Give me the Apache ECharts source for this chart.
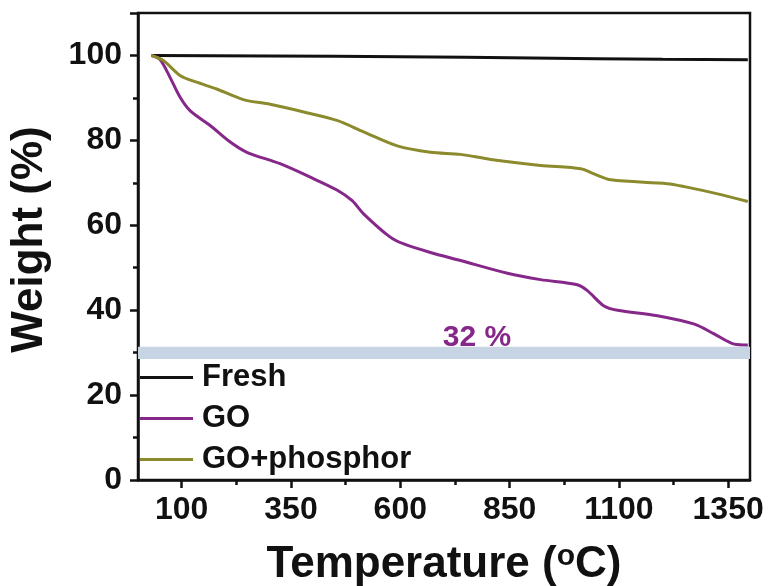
<!DOCTYPE html>
<html>
<head>
<meta charset="utf-8">
<script src="https://cdn.jsdelivr.net/npm/echarts@6/dist/echarts.min.js"></script>
<style>html,body{margin:0;padding:0;background:#fff}#c{width:773px;height:586px}</style>
</head>
<body>
<div id="c"></div>
<script>
// ---- data ----
const seriesNames = ['Fresh', 'GO', 'GO+phosphor'];
const freshTemp = [31, 300, 600, 900, 1200, 1395];
const freshWeight = [100, 99.9, 99.7, 99.4, 99.1, 99.0];
const goTemp = [31, 50, 73, 96, 119, 165, 211, 249, 325, 401, 455, 490, 516, 577, 608, 669, 738, 845, 921, 1005, 1028, 1066, 1097, 1188, 1273, 1318, 1364, 1395];
const goWeight = [100, 99.1, 94.9, 90.2, 87.0, 83.5, 79.6, 77.2, 74.5, 71.0, 68.3, 65.8, 62.7, 57.2, 55.6, 53.6, 51.7, 48.7, 47.2, 46.0, 44.6, 41.0, 40.0, 38.7, 36.7, 34.4, 32.0, 31.8];
const gopTemp = [31, 58, 96, 134, 180, 241, 302, 379, 455, 516, 593, 669, 738, 807, 921, 1013, 1043, 1082, 1211, 1250, 1326, 1395];
const gopWeight = [100, 98.8, 95.3, 93.7, 92.1, 89.6, 88.5, 86.7, 84.7, 82.0, 78.7, 77.2, 76.7, 75.5, 74.1, 73.3, 72.1, 70.7, 69.8, 69.1, 67.4, 65.6];
const xMajorTicks = [100, 350, 600, 850, 1100, 1350];
const xMinorTicks = [225, 475, 725, 975, 1225];
const bandRange = [28.5, 31.4];
const bandLabel = '32 %';

const zip = (a, b) => a.map((v, i) => [v, b[i]]);
const colors = ['#111111', '#86278a', '#8b8a2c'];
const font = '"Liberation Sans", Arial, sans-serif';

const chart = echarts.init(document.getElementById('c'), null, {renderer: 'canvas'});
chart.setOption({
  animation: false,
  grid: {left: 138, right: 23, top: 13, bottom: 106, show: true, borderColor: '#111', borderWidth: 2.5,
         containLabel: false, outerBoundsMode: 'none'},
  legend: {
    orient: 'vertical', left: 140, top: 362, padding: 0,
    data: seriesNames.map(n => ({name: n, icon: 'rect'})),
    itemWidth: 53, itemHeight: 3, itemGap: 10,
    textStyle: {fontFamily: font, fontWeight: 'bold', fontSize: 31, color: '#111', lineHeight: 31, padding: [0, 0, 0, 4]}
  },
  xAxis: [{
    type: 'value', min: 0, max: 1400,
    name: 'Temperature ({sup|o}C)', nameLocation: 'middle', nameGap: 62,
    nameTextStyle: {fontFamily: font, fontWeight: 'bold', fontSize: 44, color: '#111',
      rich: {sup: {fontFamily: font, fontWeight: 'bold', fontSize: 30, color: '#111', verticalAlign: 'top', padding: [0, 0, 16, 0]}}},
    axisLine: {show: true, lineStyle: {color: '#111', width: 2.5}},
    axisTick: {show: true, inside: false, length: 8, lineStyle: {width: 2.5, color: '#111'}, customValues: xMajorTicks},
    axisLabel: {show: true, margin: 14, fontFamily: font, fontWeight: 'bold', fontSize: 32, color: '#111',
      customValues: xMajorTicks, formatter: v => String(v)},
    splitLine: {show: false}
  }, {
    type: 'value', min: 0, max: 1400, position: 'bottom',
    axisLine: {show: false},
    axisTick: {show: true, inside: false, length: 5, lineStyle: {width: 2.5, color: '#111'}, customValues: xMinorTicks},
    axisLabel: {show: false},
    splitLine: {show: false}
  }],
  yAxis: {
    type: 'value', min: 0, max: 110, interval: 20,
    name: 'Weight (%)', nameLocation: 'middle', nameGap: 86,
    nameTextStyle: {fontFamily: font, fontWeight: 'bold', fontSize: 44, color: '#111', padding: [0, 0, 0, 14]},
    axisLine: {show: true, lineStyle: {color: '#111', width: 2.5}},
    axisTick: {show: true, inside: false, length: 8, lineStyle: {width: 2.5, color: '#111'}},
    minorTick: {show: true, splitNumber: 2, length: 5, lineStyle: {width: 2.5, color: '#111'}},
    axisLabel: {margin: 16, fontFamily: font, fontWeight: 'bold', fontSize: 32, color: '#111', showMaxLabel: false},
    splitLine: {show: false}, minorSplitLine: {show: false}
  },
  series: [
    {name: seriesNames[0], type: 'line', data: zip(freshTemp, freshWeight), showSymbol: false, smooth: true,
     lineStyle: {color: colors[0], width: 3}, itemStyle: {color: colors[0]}, z: 3},
    {name: seriesNames[1], type: 'line', data: zip(goTemp, goWeight), showSymbol: false, smooth: 0.3,
     lineStyle: {color: colors[1], width: 3}, itemStyle: {color: colors[1]}, z: 3,
     markArea: {silent: true, itemStyle: {color: '#c6d4e4'},
       label: {show: true, position: 'top', distance: -6, offset: [33, 0], formatter: bandLabel,
         fontFamily: font, fontWeight: 'bold', fontSize: 30, color: colors[1]},
       data: [[{yAxis: bandRange[0]}, {yAxis: bandRange[1]}]]}},
    {name: seriesNames[2], type: 'line', data: zip(gopTemp, gopWeight), showSymbol: false, smooth: 0.3,
     lineStyle: {color: colors[2], width: 3}, itemStyle: {color: colors[2]}, z: 3}
  ]
});
</script>
</body>
</html>
